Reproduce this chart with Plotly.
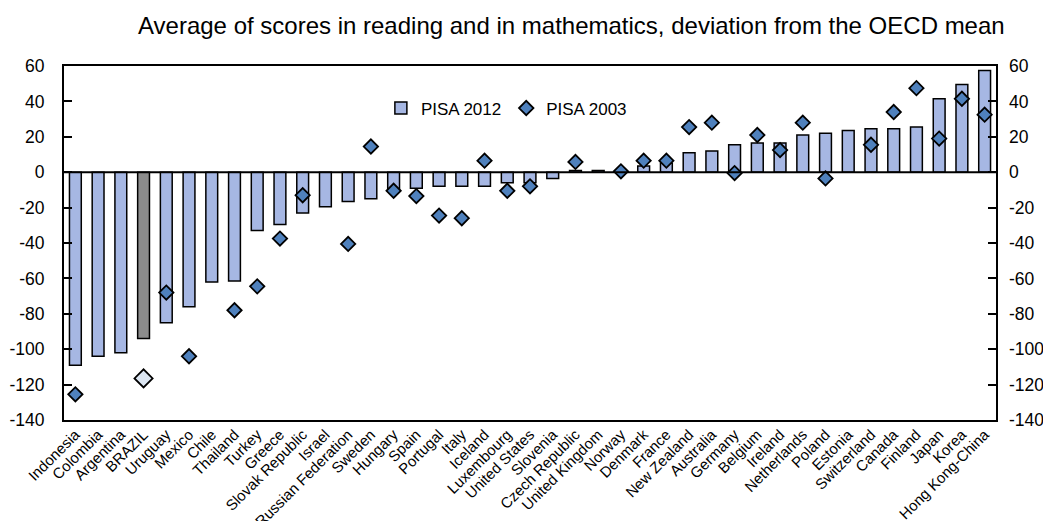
import plotly.graph_objects as go

countries = ["Indonesia", "Colombia", "Argentina", "BRAZIL", "Uruguay", "Mexico", "Chile",
             "Thailand", "Turkey", "Greece", "Slovak Republic", "Israel", "Russian Federation",
             "Sweden", "Hungary", "Spain", "Portugal", "Italy", "Iceland", "Luxembourg",
             "United States", "Slovenia", "Czech Republic", "United Kingdom", "Norway",
             "Denmark", "France", "New Zealand", "Australia", "Germany", "Belgium", "Ireland",
             "Netherlands", "Poland", "Estonia", "Switzerland", "Canada", "Finland", "Japan",
             "Korea", "Hong Kong-China"]

pisa2012 = [-109, -104, -102, -94, -85, -76, -62, -61.5, -33, -29.5, -23, -19.5, -16.5,
            -15, -10, -9, -8, -8, -8, -6, -6, -3.5, 1, 1, 0.3, 3.5, 5, 11, 12, 15.5, 16.5,
            16.5, 21, 22, 23.5, 24.5, 24.5, 25.5, 41.5, 49.5, 57.5]

pisa2003 = [-125.5, None, None, -116.5, -68, -104, None, -78, -64.5, -37.5, -13, None, -40.5,
            14.5, -10.5, -13.5, -24.5, -26, 6.5, -10.5, -8, None, 5.8, None, 0.5, 6.5, 6.5,
            25.5, 28, -0.5, 21, 12.5, 28, -3.5, None, 15.5, 34, 47.5, 19, 41.5, 32.5]

y_ticks = [60, 40, 20, 0, -20, -40, -60, -80, -100, -120, -140]
y_labels = ["60", "40", "20", "0", "-20", "-40", "-60", "-80", "-100", "-120", "-140"]

highlight = "BRAZIL"
bar_colors = ["#8c8c8c" if c == highlight else "#a6b7e3" for c in countries]
dia_colors = ["#dce6f2" if c == highlight else "#4f81bd" for c in countries]
dia_sizes = [14 if c == highlight else 11 for c in countries]

FONT = "Liberation Sans, Arial, sans-serif"

fig = go.Figure()
fig.add_trace(go.Bar(
    x=countries, y=pisa2012, name="PISA 2012", width=0.52,
    marker=dict(color=bar_colors, line=dict(color="black", width=1.5)),
))
fig.add_trace(go.Scatter(
    x=countries, y=pisa2003, name="PISA 2003", mode="markers",
    marker=dict(symbol="diamond", color=dia_colors, size=dia_sizes, opacity=1,
                line=dict(color="black", width=1.8)),
))
# invisible trace so the right-hand axis is drawn
fig.add_trace(go.Scatter(x=[countries[0]], y=[None], yaxis="y2", showlegend=False,
                         hoverinfo="skip"))

yax = dict(range=[-140, 60], tickvals=y_ticks, ticktext=y_labels, ticks="inside",
           ticklen=8, tickwidth=1.5, tickcolor="black", showgrid=False, zeroline=False,
           automargin=False, tickfont=dict(family=FONT, size=17.5, color="black"))

# page body has an 8px margin, so the figure is 8px smaller than the window
fig.update_layout(
    width=1043, height=513,
    margin=dict(l=56, r=55, t=58, b=101),
    paper_bgcolor="white", plot_bgcolor="white",
    font=dict(family=FONT, color="black"),
    bargap=0.4,
    xaxis=dict(range=[-0.5, len(countries) - 0.5], tickangle=-45, showline=True,
               linecolor="black", linewidth=2, mirror=True, ticks="", automargin=False,
               ticklabelstandoff=-2,
               tickfont=dict(family=FONT, size=15, color="black")),
    yaxis=dict(**yax, side="left", showline=True, linecolor="black", linewidth=2,
               mirror=True, ticklabelstandoff=14),
    yaxis2=dict(**yax, side="right", overlaying="y", showline=False,
                ticklabelstandoff=12),
    legend=dict(orientation="h", x=0.34, y=0.88, xanchor="left", yanchor="middle",
                bgcolor="rgba(0,0,0,0)", font=dict(family=FONT, size=17, color="black")),
    annotations=[dict(text="Average of scores in reading and in mathematics, deviation from the OECD mean",
                      xref="paper", yref="paper", x=0.544, y=1.113, xanchor="center",
                      yanchor="middle", showarrow=False,
                      font=dict(family=FONT, size=24, color="black"))],
    showlegend=True,
)

fig.add_hline(y=0, line=dict(color="black", width=2))

fig.write_html("out.html")
